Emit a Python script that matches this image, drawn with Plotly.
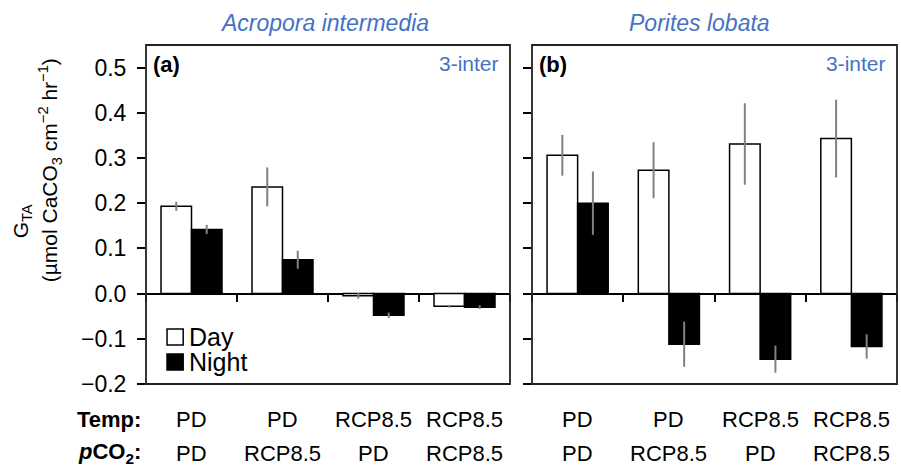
import plotly.graph_objects as go

# ---- data ----
categories = ["PD / PD", "PD / RCP8.5", "RCP8.5 / PD", "RCP8.5 / RCP8.5"]
temp_labels = ["PD", "PD", "RCP8.5", "RCP8.5"]
pco2_labels = ["PD", "RCP8.5", "PD", "RCP8.5"]

acro_day = [0.193, 0.236, -0.005, -0.028]
acro_day_err = [0.010, 0.043, 0.006, 0.003]
acro_night = [0.142, 0.075, -0.048, -0.030]
acro_night_err = [0.010, 0.020, 0.006, 0.004]

por_day = [0.306, 0.273, 0.331, 0.343]
por_day_err = [0.045, 0.062, 0.090, 0.086]
por_night = [0.200, -0.112, -0.145, -0.117]
por_night_err = [0.070, 0.050, 0.030, 0.027]

y_tickvals = [-0.2, -0.1, 0.0, 0.1, 0.2, 0.3, 0.4, 0.5]
y_ticktext = ["\u22120.2", "\u22120.1", "0.0", "0.1", "0.2", "0.3", "0.4", "0.5"]
y_range = [-0.2, 0.55]

panel_titles = ["Acropora intermedia", "Porites lobata"]
panel_tags = ["(a)", "(b)"]
series_names = ["Day", "Night"]
series_fill = ["white", "black"]

BLUE = "#4472C4"
ERR = "#808080"
FONT = "Liberation Sans, Arial, sans-serif"

fig = go.Figure()

panels = [
    ("x", "y", acro_day, acro_day_err, acro_night, acro_night_err),
    ("x2", "y2", por_day, por_day_err, por_night, por_night_err),
]
for xr, yr, d, de, n, ne in panels:
    for name, fill, vals, errs in [(series_names[0], series_fill[0], d, de),
                                   (series_names[1], series_fill[1], n, ne)]:
        fig.add_trace(go.Bar(
            x=categories, y=vals, name=name, xaxis=xr, yaxis=yr,
            marker=dict(color=fill, line=dict(color="black", width=1.5)),
            error_y=dict(type="data", array=errs, color=ERR, thickness=2, width=0),
            showlegend=False))

zero_pos = (0 - y_range[0]) / (y_range[1] - y_range[0])
dom_a = [0, 364 / 751]
dom_b = [386 / 751, 1]

xcommon = dict(type="category", categoryorder="array", categoryarray=categories,
               range=[-0.5, 3.5], showticklabels=False, showgrid=False,
               showline=False, ticks="outside", tickson="boundaries",
               ticklen=7, tickwidth=1.5, tickcolor="black", anchor="free",
               position=zero_pos, zeroline=False)
ycommon = dict(range=y_range, tickvals=y_tickvals, showgrid=False,
               showline=False, ticks="outside", ticklen=8, tickwidth=1.5,
               tickcolor="black", zeroline=True, zerolinecolor="black",
               zerolinewidth=1.5, tickfont=dict(size=23, color="black", family=FONT))

fig.update_layout(
    width=901, height=468,
    margin=dict(l=146, r=4, t=45, b=84),
    paper_bgcolor="white", plot_bgcolor="white",
    barmode="group", bargap=0.33, bargroupgap=0,
    font=dict(family=FONT, color="black"),
    xaxis=dict(domain=dom_a, **xcommon),
    xaxis2=dict(domain=dom_b, **xcommon),
    yaxis=dict(anchor="x", ticktext=y_ticktext, ticklabelstandoff=6, **ycommon),
    yaxis2=dict(anchor="x2", showticklabels=False, **ycommon),
    showlegend=False,
)

annotations = []
shapes = []
for i, (xr, yr, dom) in enumerate([("x", "y", dom_a), ("x2", "y2", dom_b)]):
    shapes.append(dict(type="rect", xref=f"{xr} domain", yref=f"{yr} domain",
                       x0=0, x1=1, y0=0, y1=1, line=dict(color="#222222", width=1.8),
                       layer="above"))
    annotations.append(dict(text=f"<i>{panel_titles[i]}</i>", xref="paper", yref="paper",
                            x=(dom[0] + dom[1]) / 2 - (0.02 if i == 1 else 0.004), y=1.065,
                            xanchor="center", yanchor="middle", showarrow=False,
                            font=dict(size=23, color=BLUE, family=FONT)))
    annotations.append(dict(text=f"<b>{panel_tags[i]}</b>", xref=f"{xr} domain", yref=f"{yr} domain",
                            x=0.015, y=0.985, xanchor="left", yanchor="top", showarrow=False,
                            font=dict(size=22, color="black", family=FONT)))
    annotations.append(dict(text="3-inter", xref=f"{xr} domain", yref=f"{yr} domain",
                            x=0.975, y=0.985, xanchor="right", yanchor="top", showarrow=False,
                            font=dict(size=21, color=BLUE, family=FONT)))
    for c, t, p in zip(categories, temp_labels, pco2_labels):
        annotations.append(dict(text=t, xref=xr, yref="paper", x=c, y=-0.106,
                                xanchor="center", yanchor="middle", showarrow=False,
                                font=dict(size=22, family=FONT)))
        annotations.append(dict(text=p, xref=xr, yref="paper", x=c, y=-0.204,
                                xanchor="center", yanchor="middle", showarrow=False,
                                font=dict(size=22, family=FONT)))

annotations.append(dict(text="<b>Temp:</b>", xref="paper", yref="paper", x=-0.004, y=-0.106,
                        xanchor="right", yanchor="middle", showarrow=False,
                        font=dict(size=22, family=FONT)))
annotations.append(dict(text="<b><i>p</i>CO<sub>2</sub>:</b>", xref="paper", yref="paper",
                        x=-0.004, y=-0.204, xanchor="right", yanchor="middle", showarrow=False,
                        font=dict(size=22, family=FONT)))
annotations.append(dict(text="G<sub>TA</sub>", xref="paper", yref="paper", x=-0.165, y=0.48,
                        xanchor="center", yanchor="middle", textangle=-90, showarrow=False,
                        font=dict(size=21, family=FONT)))
annotations.append(dict(text="(\u00b5mol CaCO<sub>3</sub> cm<sup>\u22122</sup> hr<sup>\u22121</sup>)",
                        xref="paper", yref="paper", x=-0.128, y=0.63,
                        xanchor="center", yanchor="middle", textangle=-90, showarrow=False,
                        font=dict(size=21, family=FONT)))

# manual legend (Day / Night) inside panel (a)
leg_x0, leg_x1, leg_tx = 0.028, 0.0495, 0.056
leg_rows = [(0.1622, 0.1150, 0.1386), (0.0885, 0.0413, 0.0649)]
for (ytop, ybot, ymid), name, fill in zip(leg_rows, series_names, series_fill):
    shapes.append(dict(type="rect", xref="paper", yref="paper", x0=leg_x0, x1=leg_x1,
                       y0=ybot, y1=ytop, fillcolor=fill, line=dict(color="black", width=1.5)))
    annotations.append(dict(text=name, xref="paper", yref="paper", x=leg_tx, y=ymid,
                            xanchor="left", yanchor="middle", showarrow=False, borderpad=0,
                            font=dict(size=25, family=FONT)))

fig.update_layout(annotations=annotations, shapes=shapes)
fig.write_html("out.html")
